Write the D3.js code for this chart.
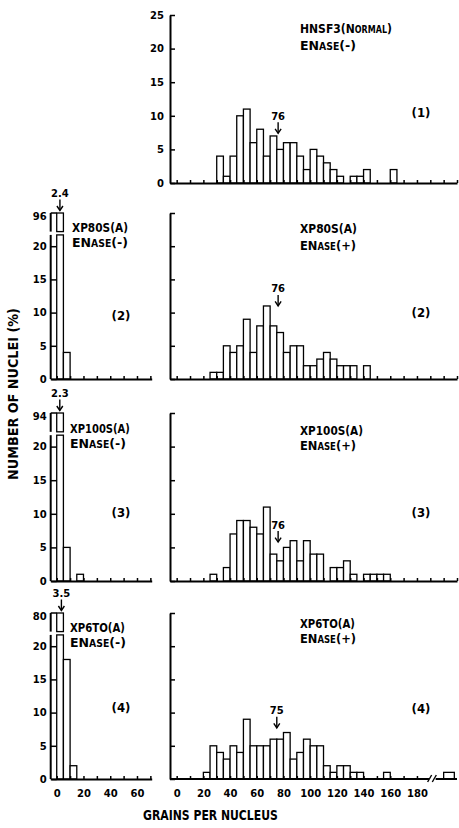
<!DOCTYPE html>
<html><head><meta charset="utf-8">
<script src="https://cdn.jsdelivr.net/npm/d3@7/dist/d3.min.js"></script>
<style>
body{margin:0;background:#fff}
svg{display:block}
</style></head><body><svg id="c" width="459" height="828"></svg>
<script>
// ---------------- DATA ----------------
// right panels: bins of 5 grains, starting values
const binStarts   = [20,25,30,35,40,45,50,55,60,65,70,75,80,85,90,95,100,105,110,115,120,125,130,135,140,145,150,155,160];
const hnsf3Minus  = [0,0,4,1,4,10,11,6,8,4,7,5,6,6,4,2,5,4,3,2,1,0,1,1,2,0,0,0,2];
const xp80sPlus   = [0,1,1,5,4,5,9,4,8,11,8,7,4,5,5,2,2,3,4,3,2,2,2,0,2,0,0,0,0];
const xp100sPlus  = [0,1,0,2,7,9,9,8,7,11,4,3,5,6,3,6,4,4,0,2,2,3,1,0,1,1,1,1,0];
const xp6toPlus   = [1,5,4,3,5,4,9,5,5,5,6,6,7,3,4,6,5,5,2,1,2,2,1,1,0,0,0,1,0];
const xp6toPlusBeyondBreak = {start: 200, value: 1};
// left panels (ENase(-))
const leftBinStarts = [0,5,10,15];
const xp80sMinus  = [96,4,0,0];
const xp100sMinus = [94,5,0,1];
const xp6toMinus  = [80,18,2,0];
// means
const rightMeans = [76,76,76,75];
const rightMeanArrowLevel = [7.4,11,5.8,7.7];
const leftMeans = [2.4,2.3,3.5];
// names
const rightNames = [["HNSF3(N","ORMAL",")"],["XP80S(A)"],["XP100S(A)"],["XP6TO(A)"]];
const leftNames  = ["XP80S(A)","XP100S(A)","XP6TO(A)"];
const panelNums = ["(1)","(2)","(3)","(4)"];
// ticks
const yTicks = [0,5,10,15,20,25];
const leftYTicks = [0,5,10,15,20];
const rightXTicks = [0,10,20,30,40,50,60,70,80,90,100,110,120,130,140,150,160,170,180,190,200,210];
const rightXTicks4 = [0,10,20,30,40,50,60,70,80,90,100,110,120,130,140,150,160,170,180];
const rightXLabels = [0,20,40,60,80,100,120,140,160,180];
const leftXTicks = [0,10,20,30,40,50,60,70];
const leftXLabels = [0,20,40,60];

// ---------------- LAYOUT ----------------
const svg = d3.select("#c");
const TXT = '"DejaVu Sans Condensed","Liberation Sans Narrow",sans-serif';
const NUM = '"DejaVu Sans",sans-serif';
const panels = [
  {top:15, bot:183, rlab:[33,50], num:117, left:null},
  {top:213, bot:379, rlab:[233,250], num:317, left:{lab:[232,247], lx:72, num:320}},
  {top:413, bot:581, rlab:[435,450], num:517, left:{lab:[433,448], lx:70, num:517}},
  {top:613, bot:779, rlab:[628,643], num:713, left:{lab:[632,647], lx:70, num:712}}
];
const rightSeries = [hnsf3Minus, xp80sPlus, xp100sPlus, xp6toPlus];
const leftSeries = [null, xp80sMinus, xp100sMinus, xp6toMinus];
const breakLo = 21.7, breakHi = 22.2;

const xR = d3.scaleLinear().domain([-5,210]).range([170,457]);
const xL = d3.scaleLinear().domain([-4.5,71]).range([50.7,151.7]);

function styleAxis(g){
  g.selectAll("path.domain").attr("stroke","#000").attr("stroke-width",2);
  g.selectAll(".tick line").attr("stroke","#000").attr("stroke-width",1.5);
  g.selectAll(".tick text").attr("font-family",NUM).attr("font-weight","bold").attr("font-size",10).attr("fill","#000");
}
// text squeezed horizontally to a given width (via transform, not textLength)
function label(x,y,parts,size,len,anchor){
  const t = svg.append("text").attr("x",0).attr("y",0).attr("font-family",TXT)
    .attr("font-weight","bold").attr("font-size",size).attr("fill","#000")
    .attr("text-anchor",anchor||"start");
  parts.forEach(p=>t.append("tspan").text(p[0]).attr("font-size",p[1]?size*0.74:size));
  let sx = 1;
  if(len){ const w = t.node().getComputedTextLength(); if(w>0) sx = len/w; }
  t.attr("transform",`translate(${x},${y}) scale(${sx},1)`);
  return t;
}
function arrow(x,tip){
  svg.append("line").attr("x1",x).attr("x2",x).attr("y1",tip-11).attr("y2",tip)
    .attr("stroke","#000").attr("stroke-width",1.4);
  svg.append("path").attr("d",`M${x-3},${tip-4.5}L${x},${tip}L${x+3},${tip-4.5}`)
    .attr("fill","none").attr("stroke","#000").attr("stroke-width",1.4);
}
function numText(x,y,s,anchor){
  svg.append("text").attr("x",x).attr("y",y).attr("font-family",NUM).attr("font-weight","bold")
    .attr("font-size",10).attr("text-anchor",anchor||"middle").attr("fill","#000").text(s);
}

panels.forEach((p,i)=>{
  const y = d3.scaleLinear().domain([0,25]).range([p.bot,p.top]);
  // ---- right panel ----
  const g = svg.append("g");
  const data = binStarts.map((s,k)=>({s, v:rightSeries[i][k]})).filter(d=>d.v>0);
  g.selectAll("rect").data(data).join("rect")
    .attr("x",d=>xR(d.s)).attr("width",d=>xR(d.s+5)-xR(d.s))
    .attr("y",d=>y(d.v)).attr("height",d=>y(0)-y(d.v))
    .attr("fill","#fff").attr("stroke","#000").attr("stroke-width",1.3);
  if(i===3){
    const e = xp6toPlusBeyondBreak;
    g.append("rect").attr("x",xR(e.start)).attr("width",xR(e.start+8)-xR(e.start))
      .attr("y",y(e.value)).attr("height",y(0)-y(e.value))
      .attr("fill","#fff").attr("stroke","#000").attr("stroke-width",1.3);
  }
  const ax = d3.axisLeft(y).tickValues(yTicks).tickSize(-5).tickSizeOuter(0).tickPadding(6)
    .tickFormat(i===0?d3.format("d"):()=> "");
  const ga = svg.append("g").attr("transform",`translate(${xR(-5)},0)`).call(ax);
  styleAxis(ga);
  const bx = d3.axisBottom(xR).tickValues(i===3?rightXTicks4:rightXTicks).tickSize(-3).tickSizeOuter(0).tickPadding(11)
    .tickFormat(d=> (i===3 && rightXLabels.includes(d)) ? d : "");
  const gb = svg.append("g").attr("transform",`translate(0,${p.bot})`).call(bx);
  styleAxis(gb);
  if(i===3){
    gb.select("path.domain").remove();
    gb.append("line").attr("x1",xR(-5)).attr("x2",xR(189)).attr("y1",0).attr("y2",0).attr("stroke","#000").attr("stroke-width",2);
    gb.append("line").attr("x1",xR(194)).attr("x2",xR(210)).attr("y1",0).attr("y2",0).attr("stroke","#000").attr("stroke-width",2);
    [189.5,193].forEach(v=>gb.append("line").attr("x1",xR(v)-2).attr("x2",xR(v)+2).attr("y1",3).attr("y2",-4)
      .attr("stroke","#000").attr("stroke-width",1.4));
  }
  // labels
  const nm = rightNames[i].length>1 ? [[rightNames[i][0]],[rightNames[i][1],true],[rightNames[i][2]]] : [[rightNames[i][0]]];
  const w1 = [92,57,63,55][i];
  label(300,p.rlab[0],nm,13,w1);
  label(300,p.rlab[1],[["EN"],["ASE",true],[i===0?"(-)":"(+)"]],13,56);
  label(421,p.num,[[panelNums[i]]],13,null,"middle");
  // mean arrow
  const mx = xR(rightMeans[i]);
  const tip = y(rightMeanArrowLevel[i]);
  arrow(mx,tip);
  numText(mx,tip-13.5,rightMeans[i]);

  // ---- left panel ----
  if(p.left){
    const ls = leftSeries[i];
    const ld = leftBinStarts.map((s,k)=>({s,v:ls[k]})).filter(d=>d.v>0);
    const lg = svg.append("g");
    ld.forEach(d=>{
      const x0 = xL(d.s), w = xL(d.s+5)-xL(d.s);
      if(d.v>25){
        lg.append("rect").attr("x",x0).attr("width",w).attr("y",y(breakLo)).attr("height",y(0)-y(breakLo))
          .attr("fill","#fff").attr("stroke","#000").attr("stroke-width",1.3);
        lg.append("rect").attr("x",x0).attr("width",w).attr("y",y(25)).attr("height",y(breakHi)-y(25))
          .attr("fill","#fff").attr("stroke","#000").attr("stroke-width",1.3);
      } else {
        lg.append("rect").attr("x",x0).attr("width",w).attr("y",y(d.v)).attr("height",y(0)-y(d.v))
          .attr("fill","#fff").attr("stroke","#000").attr("stroke-width",1.3);
      }
    });
    const lax = d3.axisLeft(y).tickValues(leftYTicks).tickSize(-6).tickPadding(4).tickFormat(d3.format("d"));
    const lga = svg.append("g").attr("transform",`translate(${xL(-4.5)},0)`).call(lax);
    lga.select("path.domain").remove();
    lga.append("line").attr("x1",0).attr("x2",0).attr("y1",y(0)).attr("y2",y(breakLo)).attr("stroke","#000").attr("stroke-width",2);
    lga.append("line").attr("x1",0).attr("x2",0).attr("y1",y(breakHi)).attr("y2",y(25)).attr("stroke","#000").attr("stroke-width",2);
    lga.append("line").attr("x1",0).attr("x2",6).attr("y1",y(25)).attr("y2",y(25)).attr("stroke","#000").attr("stroke-width",1.5);
    styleAxis(lga);
    numText(xL(-4.5)-4,y(25)+7,ls[0],"end");
    const lbx = d3.axisBottom(xL).tickValues(leftXTicks).tickSize(-3).tickSizeOuter(0).tickPadding(11)
      .tickFormat(d=> (i===3 && leftXLabels.includes(d)) ? d : "");
    const lgb = svg.append("g").attr("transform",`translate(0,${p.bot})`).call(lbx);
    styleAxis(lgb);
    label(p.left.lx,p.left.lab[0],[[leftNames[i-1]]],13,[56,60,55][i-1]);
    label(p.left.lx,p.left.lab[1],[["EN"],["ASE",true],["(-)"]],13,56);
    label(121,p.left.num,[[panelNums[i]]],13,null,"middle");
    const lmx = xL(leftMeans[i-1]);
    const ltip = y(25)-2.5;
    arrow(lmx,ltip);
    numText(lmx,ltip-14,leftMeans[i-1]);
  }
});

// axis titles
(function(){
  const t = svg.append("text").attr("font-family",TXT).attr("font-weight","bold").attr("font-size",14)
    .attr("fill","#000").attr("text-anchor","middle").text("NUMBER OF NUCLEI (%)");
  const w = t.node().getComputedTextLength();
  t.attr("transform",`translate(18,394) rotate(-90) scale(${172/w},1)`);
})();
label(143,820,[["GRAINS PER NUCLEUS"]],14,135);
</script></body></html>
